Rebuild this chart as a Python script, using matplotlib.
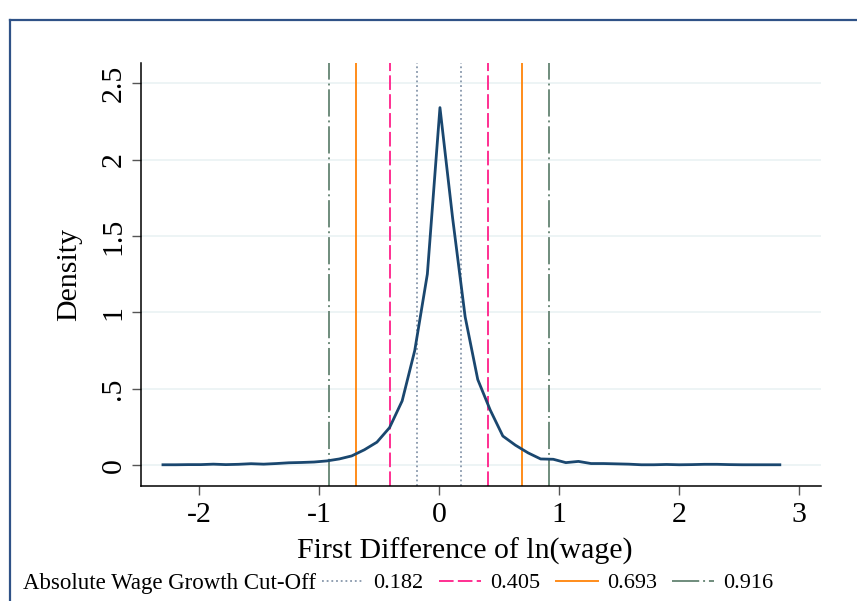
import matplotlib
matplotlib.use("Agg")
import matplotlib.pyplot as plt
from matplotlib.lines import Line2D

# kernel density points
wage_diff = [-2.300, -2.195, -2.090, -1.985, -1.880, -1.776, -1.671, -1.566, -1.461, -1.356,
             -1.251, -1.146, -1.041, -0.936, -0.831, -0.727, -0.622, -0.517, -0.412, -0.307,
             -0.202, -0.097, 0.008, 0.113, 0.218, 0.323, 0.427, 0.532, 0.637, 0.742,
             0.847, 0.952, 1.057, 1.162, 1.267, 1.372, 1.476, 1.581, 1.686, 1.791,
             1.896, 2.001, 2.106, 2.211, 2.316, 2.421, 2.525, 2.630, 2.735, 2.840]
density = [0.002, 0.002, 0.003, 0.003, 0.006, 0.003, 0.005, 0.009, 0.006, 0.010,
           0.015, 0.017, 0.020, 0.027, 0.040, 0.060, 0.100, 0.150, 0.245, 0.420,
           0.750, 1.250, 2.340, 1.620, 0.970, 0.560, 0.360, 0.190, 0.130, 0.080,
           0.040, 0.038, 0.016, 0.024, 0.010, 0.010, 0.008, 0.006, 0.002, 0.002,
           0.004, 0.002, 0.003, 0.005, 0.005, 0.003, 0.002, 0.002, 0.002, 0.002]

cutoffs = [0.182, 0.405, 0.693, 0.916]
cutoff_labels = ["0.182", "0.405", "0.693", "0.916"]
cutoff_colors = ["#8797ab", "#ff2f92", "#ff8c1a", "#6f8c7c"]
cutoff_styles = [(0, (1, 1.6)), (0, (7.5, 2.2)), "-", (0, (14, 2, 1, 2))]
cutoff_widths = [1.3, 1.4, 1.4, 1.4]

yticks = [0, 0.5, 1, 1.5, 2, 2.5]
ytick_labels = ["0", ".5", "1", "1.5", "2", "2.5"]
xticks = [-2, -1, 0, 1, 2, 3]

plt.rcParams['font.family'] = ['Liberation Serif', 'DejaVu Serif']

W, H = 857, 601
fig = plt.figure(figsize=(W / 100, H / 100), dpi=100)
ax = fig.add_axes([141 / W, (H - 486) / H, (821 - 141) / W, (486 - 63) / H])

for v in yticks:
    ax.axhline(v, color="#eaf2f3", lw=1.2, zorder=0)

for c, col, ls, lw in zip(cutoffs, cutoff_colors, cutoff_styles, cutoff_widths):
    ax.axvline(-c, color=col, linestyle=ls, lw=lw, zorder=2)
    ax.axvline(c, color=col, linestyle=ls, lw=lw, zorder=2)

ax.plot(wage_diff, density, color="#1a476f", lw=2.0, zorder=3)

ax.set_xlim(-2.483, 3.183)
ax.set_ylim(-0.137, 2.632)
ax.set_xticks(xticks)
ax.set_xticklabels([str(t) for t in xticks])
ax.set_yticks(yticks)
ax.set_yticklabels(ytick_labels, rotation=90, va="center")
ax.tick_params(axis="both", length=6.5, width=1.0, color="#555555", labelsize=21.5, pad=4)
ax.tick_params(axis="x", pad=5)

for s in ["top", "right"]:
    ax.spines[s].set_visible(False)
for s in ["left", "bottom"]:
    ax.spines[s].set_linewidth(1.1)

ax.set_xlabel("First Difference of ln(wage)", fontsize=21.5)
ax.xaxis.label.set_va("center")
ax.xaxis.set_label_coords((465 - 141) / 680, (486 - 551) / 423)
ax.set_ylabel("Density", fontsize=21.5)
ax.yaxis.label.set_va("center")
ax.yaxis.set_label_coords((69 - 141) / 680, 0.5)

# outer frame of the graph region (cut off at right and bottom)
fig.add_artist(Line2D([10 / W, 1.0], [1 - 20 / H, 1 - 20 / H], color="#2f5287", lw=1.6))
fig.add_artist(Line2D([10 / W, 10 / W], [0.0, 1 - 20 / H], color="#2f5287", lw=1.6))

# legend row
fig.text(23 / W, 1 - 583 / H, "Absolute Wage Growth Cut-Off", fontsize=16.5, va="center", ha="left")
handles = [Line2D([0], [0], color=col, linestyle=ls, lw=lw)
           for col, ls, lw in zip(cutoff_colors, cutoff_styles, cutoff_widths)]
fig.legend(handles, cutoff_labels, ncol=4, frameon=False, fontsize=16,
           loc="center left", bbox_to_anchor=(322 / W, 1 - 583 / H),
           handlelength=1.9, handletextpad=0.4, columnspacing=0.7, borderpad=0, borderaxespad=0)

fig.savefig("out.png", dpi=100)
